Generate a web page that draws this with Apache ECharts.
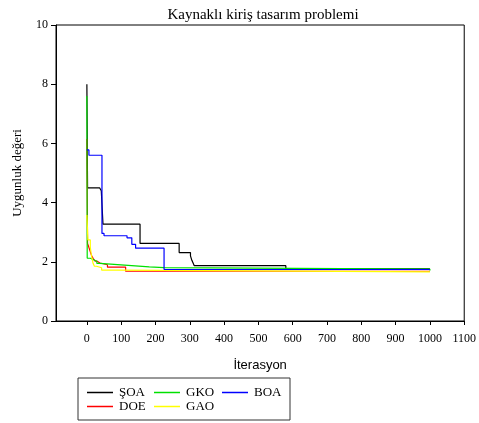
<!DOCTYPE html>
<html>
<head>
<meta charset="utf-8">
<script src="https://cdn.jsdelivr.net/npm/echarts@6/dist/echarts.min.js"></script>
<style>
    html, body { margin: 0; padding: 0; background: #fff; }
    #chart { width: 479px; height: 423px; }
</style>
</head>
<body>
<div id="chart"></div>
<script>
'use strict';
// iteration where each curve changes value, and the value from then on
var soaIter = [0, 2, 37, 42, 47, 155, 269, 302, 306, 310, 313, 580, 1000];
var soaVal = [8.0, 4.5, 4.45, 4.4, 3.27, 2.62, 2.31, 2.2, 2.05, 1.95, 1.87, 1.76, 1.75];

var doeIter = [0, 2, 7, 11, 14, 19, 24, 30, 38, 60, 113, 1000];
var doeVal = [6.15, 2.62, 2.45, 2.3, 2.2, 2.1, 2.02, 1.96, 1.9, 1.82, 1.68, 1.67];

var gkoIter = [0, 1, 10, 18, 29, 38, 110, 182, 225, 1000];
var gkoVal = [7.6, 2.12, 2.08, 2.02, 1.95, 1.89, 1.83, 1.8, 1.75, 1.71];

var gaoIter = [0, 3, 10, 13, 18, 22, 28, 43, 86, 1000];
var gaoVal = [3.58, 2.74, 2.5, 2.23, 1.95, 1.85, 1.8, 1.72, 1.66, 1.66];

var boaIter = [0, 6, 44, 50, 117, 131, 142, 225, 1000];
var boaVal = [5.78, 5.6, 2.96, 2.88, 2.81, 2.59, 2.46, 1.74, 1.73];

var xTicks = [0, 100, 200, 300, 400, 500, 600, 700, 800, 900, 1000, 1100];
var yTicks = [0, 2, 4, 6, 8, 10];

function pairs(xs, ys) {
    return xs.map(function (x, i) { return [x, ys[i]]; });
}

var serif = 'Liberation Serif';

function line(name, color, xs, ys) {
    return {
        name: name,
        type: 'line',
        step: 'end',
        symbol: 'none',
        animation: false,
        lineStyle: { color: color, width: 1.2 },
        itemStyle: { color: color },
        data: pairs(xs, ys)
    };
}

// one legend per column so the two rows line up like the original box
function legendCol(left, names) {
    return {
        left: left,
        top: 386,
        height: 40,
        orient: 'vertical',
        icon: 'rect',
        itemWidth: 26,
        itemHeight: 1.5,
        itemGap: 1,
        padding: 0,
        data: names,
        textStyle: { fontFamily: serif, fontSize: 13, lineHeight: 13, color: '#000', padding: [0, 0, 0, 1] }
    };
}

var chart = echarts.init(document.getElementById('chart'));
chart.setOption({
    animation: false,
    title: {
        text: 'Kaynaklı kiriş tasarım problemi',
        left: 258,
        textAlign: 'center',
        top: 3,
        textStyle: { fontFamily: serif, fontSize: 15, fontWeight: 'normal', color: '#000' }
    },
    grid: {
        left: 56, right: 11, top: 25, bottom: 102,
        show: true, borderColor: '#000', borderWidth: 1
    },
    legend: [
        legendCol(87, ['ŞOA', 'DOE']),
        legendCol(154, ['GKO', 'GAO']),
        legendCol(222, ['BOA'])
    ],
    graphic: [{
        type: 'rect',
        shape: { x: 78, y: 378, width: 212, height: 42 },
        style: { fill: 'none', stroke: '#333', lineWidth: 1 }
    }],
    xAxis: {
        type: 'value',
        min: -90,
        max: 1100,
        name: 'İterasyon',
        nameLocation: 'middle',
        nameGap: 38,
        nameTextStyle: { fontFamily: 'Liberation Sans', fontSize: 13, color: '#000' },
        axisLine: { lineStyle: { color: '#000' } },
        axisTick: { customValues: xTicks, length: 4, lineStyle: { color: '#000' } },
        axisLabel: {
            customValues: xTicks, fontFamily: serif, fontSize: 12, color: '#000', margin: 12,
            formatter: function (v) { return String(v); }
        },
        splitLine: { show: false }
    },
    yAxis: {
        type: 'value',
        min: 0,
        max: 10,
        interval: 2,
        name: 'Uygunluk değeri',
        nameLocation: 'middle',
        nameGap: 32,
        nameTextStyle: { fontFamily: serif, fontSize: 13, color: '#000' },
        axisLine: { show: true, onZero: false, lineStyle: { color: '#000' } },
        axisTick: { show: true, length: 5, lineStyle: { color: '#000' } },
        axisLabel: { customValues: yTicks, fontFamily: serif, fontSize: 12, color: '#000', margin: 8 },
        splitLine: { show: false }
    },
    series: [
        line('ŞOA', '#000000', soaIter, soaVal),
        line('DOE', '#ff0000', doeIter, doeVal),
        line('GKO', '#00e000', gkoIter, gkoVal),
        line('GAO', '#ffff00', gaoIter, gaoVal),
        line('BOA', '#0000ff', boaIter, boaVal)
    ]
});
</script>
</body>
</html>
